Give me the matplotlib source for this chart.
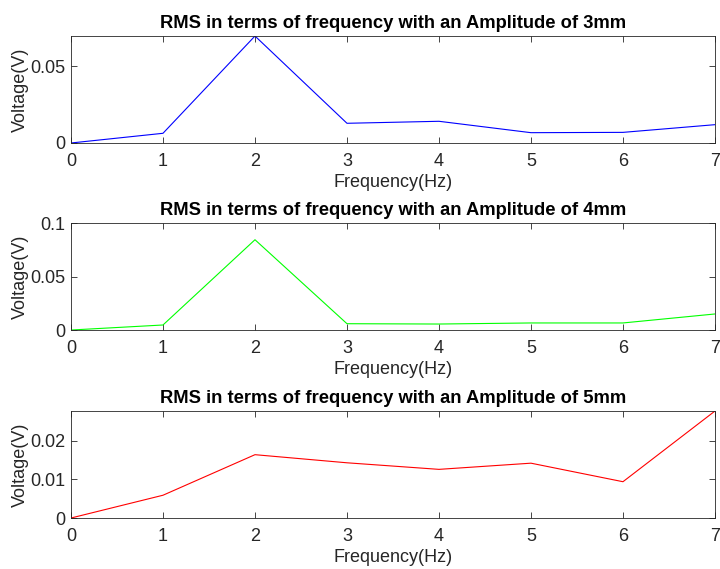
import matplotlib
matplotlib.use('Agg')
import matplotlib.pyplot as plt

freq = [0, 1, 2, 3, 4, 5, 6, 7]
rms3mm = [0.0, 0.0063, 0.0695, 0.0128, 0.0141, 0.0067, 0.0069, 0.0119]
rms4mm = [0.0, 0.0047, 0.0844, 0.0059, 0.0056, 0.0066, 0.0066, 0.0150]
rms5mm = [0.0, 0.0059, 0.0164, 0.0143, 0.0126, 0.0142, 0.0094, 0.0277]

titles = ['RMS in terms of frequency with an Amplitude of 3mm',
          'RMS in terms of frequency with an Amplitude of 4mm',
          'RMS in terms of frequency with an Amplitude of 5mm']
series = [rms3mm, rms4mm, rms5mm]
colors = ['#0000ff', '#00ff00', '#ff0000']
ylims = [(0, 0.0695), (0, 0.1), (0, 0.0277)]
yticks = [[0, 0.05], [0, 0.05, 0.1], [0, 0.01, 0.02]]
ytlabels = [['0', '0.05'], ['0', '0.05', '0.1'], ['0', '0.01', '0.02']]

plt.rcParams['font.family'] = ['Liberation Sans', 'DejaVu Sans']
axcol = '#262626'

fig = plt.figure(figsize=(7.2, 5.69), dpi=100)
bottoms = [0.7487, 0.42, 0.0896]

for i in range(3):
    ax = fig.add_axes([0.0986, bottoms[i], 0.8944, 0.188])
    ax.plot(freq, series[i], color=colors[i], linewidth=0.8)
    ax.set_xlim(0, 7)
    ax.set_ylim(*ylims[i])
    ax.set_xticks(freq)
    ax.set_yticks(yticks[i])
    ax.set_yticklabels(ytlabels[i])
    ax.set_title(titles[i], fontsize=13.2, fontweight='bold', color='black', pad=6)
    ax.set_xlabel('Frequency(Hz)', fontsize=13, color=axcol, labelpad=3)
    ax.set_ylabel('Voltage(V)', fontsize=13, color=axcol, labelpad=1)
    ax.tick_params(axis='x', pad=7)
    ax.tick_params(axis='y', pad=4)
    ax.tick_params(direction='in', top=True, right=True, labelsize=13,
                   colors=axcol, length=4, width=0.6)
    for s in ax.spines.values():
        s.set_color(axcol)
        s.set_linewidth(0.6)

fig.savefig('out.png', dpi=100)
